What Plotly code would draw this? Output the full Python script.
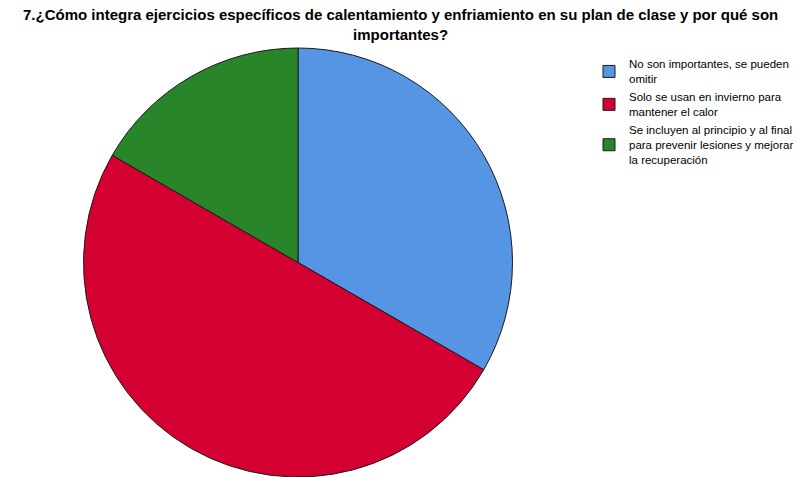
import plotly.graph_objects as go

# Survey responses for question 7
labels = [
    "No son importantes, se pueden<br>omitir",
    "Solo se usan en invierno para<br>mantener el calor",
    "Se incluyen al principio y al final<br>para prevenir lesiones y mejorar<br>la recuperación",
]
counts = [2, 3, 1]
colors = ["#5595E4", "#D50032", "#29852A"]

title_lines = [
    "7.¿Cómo integra ejercicios específicos de calentamiento y enfriamiento en su plan de clase y por qué son",
    "importantes?",
]

W, H, TOP = 800, 477, 48
plot_h = H - TOP

fig = go.Figure(
    go.Pie(
        labels=labels,
        values=counts,
        sort=False,
        direction="clockwise",
        rotation=0,
        textinfo="none",
        hoverinfo="label+value+percent",
        marker=dict(colors=colors, line=dict(color="#1a1a1a", width=1)),
        domain=dict(x=[82 / W, 514 / W], y=[0.0, 1.0]),
    )
)

# Bold two-line title centred above the pie
fig.add_annotation(
    text="<b>" + "<br>".join(title_lines) + "</b>",
    xref="paper", yref="paper",
    x=0.5, xanchor="center",
    y=1 + (TOP - 4) / plot_h, yanchor="top",
    showarrow=False,
    align="center",
    font=dict(family="Liberation Sans, Arial, sans-serif", size=15, color="#000000"),
)

fig.update_layout(
    width=W,
    height=H,
    paper_bgcolor="white",
    plot_bgcolor="white",
    margin=dict(l=0, r=0, t=TOP, b=0, autoexpand=False),
    font=dict(family="Liberation Sans, Arial, sans-serif", size=12, color="#000000"),
    legend=dict(
        x=589 / W,
        xanchor="left",
        y=(H - 50) / plot_h,
        yanchor="top",
        yref="paper",
        font=dict(size=11.5, family="Liberation Sans, Arial, sans-serif"),
        tracegroupgap=0,
        itemwidth=30,
        bgcolor="rgba(0,0,0,0)",
    ),
)

fig.write_html("out.html")
